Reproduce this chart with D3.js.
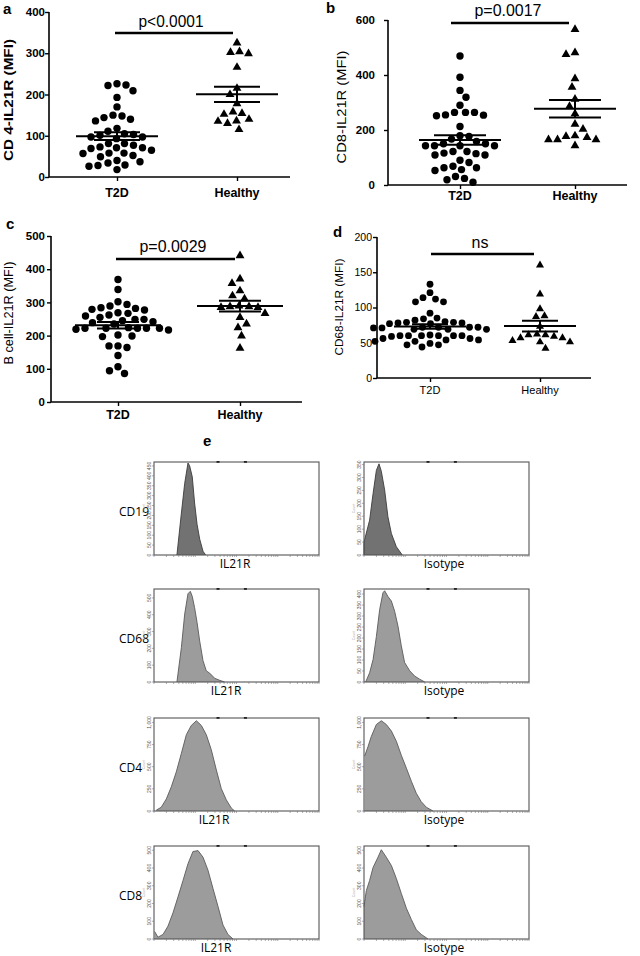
<!DOCTYPE html>
<html><head><meta charset="utf-8">
<script src="https://cdn.jsdelivr.net/npm/d3@7"></script>
<style>body{margin:0;background:#fff}svg{display:block}</style>
</head><body>
<svg id="c" width="640" height="956"></svg>
<script>
// ---------- DATA ----------
const categories = ["T2D", "Healthy"];
const pLabels = ["p<0.0001", "p=0.0017", "p=0.0029", "ns"];
const panelLetters = ["a", "b", "c", "d", "e"];
const yTitles = ["CD 4-IL21R (MFI)", "CD8-IL21R (MFI)", "B cell-IL21R (MFI)", "CD68-IL21R (MFI)"];

const cd4T2D = [223,209,193,222,226,170,150,144,136,140,148,118,111,105,103,101,97,93,97,71,69,65,73,81,77,81,71,58,52,49,58,57,40,34,28,18,26,29,37];
const cd4Healthy = [325,302,299,304,266,215,200,178,158,135,152,154,140,136,130,115];
const cd8T2D = [469,392,344,319,290,264,254,255,252,264,264,213,179,177,158,150,143,143,143,143,150,167,122,116,109,90,109,114,122,82,63,53,56,63,68,24,10,19,31];
const cd8Healthy = [566,481,475,387,356,312,286,259,221,203,173,165,143,165,179,165,177];
const bcellT2D = [369,339,294,289,302,282,277,267,259,262,269,279,284,249,245,239,235,242,249,255,222,222,224,217,219,222,222,222,202,197,199,169,164,169,140,106,86,94];
const bcellHealthy = [441,371,357,335,320,311,287,285,285,287,289,267,255,235,224,199,162];
const cd68T2D = [133,121,114,112,108,108,92,85,82,80,79,78,77,77,78,79,84,69,69,71,71,72,72,72,72,69,60,60,59,60,60,60,61,60,56,54,52,49,47,44,47,52,54,56];
const cd68Healthy = [160,119,98,88,87,73,62,57,61,57,59,61,51,53,51,42];

const yTicksCD4 = [0,100,200,300,400];
const yTicksCD8 = [0,200,400,600];
const yTicksBcell = [0,100,200,300,400,500];
const yTicksCD68 = [0,50,100,150,200];

// histograms (panel e): channel (0-1000 across axis) and event count
const histRows = ["CD19", "CD68", "CD4", "CD8"];
const histCols = ["IL21R", "Isotype"];
const cd19IL21RChannel = [139,166,186,206,216,232,246,261,277,297,313];
const cd19IL21RCount   = [0,212,362,465,451,395,263,155,80,19,0];
const cd19IsoChannel   = [0,0,34,55,75,91,105,125,145,166,196,232];
const cd19IsoCount     = [0,50,135,238,328,353,324,252,148,83,32,0];
const cd68IL21RChannel = [139,166,186,206,220,232,246,261,277,297,317,337,368,398,428];
const cd68IL21RCount   = [0,205,404,525,539,509,442,354,243,127,66,53,22,10,0];
const cd68IsoChannel   = [10,34,55,75,95,115,125,145,166,186,206,226,246,277,307,337,368];
const cd68IsoCount     = [0,42,102,207,330,406,415,389,368,321,254,165,89,51,27,13,0];
const cd4IL21RChannel  = [14,44,75,105,135,166,196,226,257,287,317,347,378,408,438,469,489];
const cd4IL21RCount    = [10,42,137,273,441,651,861,966,1019,966,861,693,462,252,126,32,0];
const cd4IsoChannel    = [4,24,44,75,105,135,166,196,226,257,287,317,347,378,418];
const cd4IsoCount      = [620,725,840,977,1019,977,903,788,630,483,336,200,105,42,0];
const cd8IL21RChannel  = [4,24,55,85,115,145,176,206,236,267,297,327,358,388,418,448,479];
const cd8IL21RCount    = [42,10,26,73,147,236,330,424,493,498,461,388,283,183,79,26,0];
const cd8IsoChannel    = [0,14,34,55,85,105,135,166,196,226,257,287,317,347,388];
const cd8IsoCount      = [183,272,330,403,461,503,461,414,341,257,173,110,52,26,0];
const histYMax = [[470,360],[553,423],[1050,1050],[524,524]];
const histTicks = [
  [[0,50,100,150,200,250,300,350,400,450],[0,50,100,150,200,250,300,350]],
  [[0,100,200,300,400,500],[0,50,100,150,200,250,300,350,400]],
  [["0",250],[0,250]].map(()=>[0,250,500,750,1000]),
  [[0,100,200,300,400,500],[0,100,200,300,400,500]]
];

// ---------- DRAW ----------
const svg = d3.select("#c");
const FONT = "'Liberation Sans', Arial, sans-serif";

function swarm(values, y, cx, dist) {
  const pts = values.map(v => ({v, y: y(v)})).sort((a, b) => b.v - a.v);
  const placed = [];
  pts.forEach((p, k) => {
    let off = 0;
    outer: for (let s = 0; s < 400; s++) {
      const d = s * 0.5;
      const cands = s === 0 ? [0] : (k % 2 ? [d, -d] : [-d, d]);
      for (const c of cands) {
        if (placed.every(q => Math.hypot(q.x - c, q.y - p.y) >= dist)) { off = c; break outer; }
      }
    }
    p.x = off; placed.push(p);
  });
  return pts.map(p => ({v: p.v, x: cx + p.x, y: p.y}));
}

const panels = [
  {t2d: cd4T2D, hl: cd4Healthy, max: 400, ticks: yTicksCD4, title: yTitles[0], p: pLabels[0], letter: panelLetters[0],
   ax: 49, xEnd: 290, y0: 177, y1: 12, cx: [117, 237], bold: true, lp: [3, 14], tx: 12.5, ty: 100, tlen: 122,
   catY: 197, px: 171, py: 27, plen: 65, br: [115, 233, 33], tickR: 45, meanHW: 41, semHW: 23, r: 3.7, tri: 34, dist: 9},
  {t2d: cd8T2D, hl: cd8Healthy, max: 600, ticks: yTicksCD8, title: yTitles[1], p: pLabels[1], letter: panelLetters[1],
   ax: 388, xEnd: 627, y0: 185, y1: 20, cx: [460, 575], bold: true, titleBold: false, lp: [326, 13], tx: 346, ty: 107, tlen: 113,
   catY: 200, px: 508, py: 16, plen: 67, br: [451, 569, 23], tickR: 375, meanHW: 41, semHW: 26, r: 3.7, tri: 34, dist: 9},
  {t2d: bcellT2D, hl: bcellHealthy, max: 500, ticks: yTicksBcell, title: yTitles[2], p: pLabels[2], letter: panelLetters[2],
   ax: 51, xEnd: 302, y0: 402, y1: 236, cx: [118, 240], bold: true, titleBold: false, lp: [6, 229], tx: 13, ty: 313, tlen: 103,
   catY: 419, px: 173, py: 252, plen: 67, br: [116, 235, 259], tickR: 45, meanHW: 43, semHW: 21, r: 3.7, tri: 34, dist: 9},
  {t2d: cd68T2D, hl: cd68Healthy, max: 200, ticks: yTicksCD68, title: yTitles[3], p: pLabels[3], letter: panelLetters[3],
   ax: 377, xEnd: 591, y0: 378, y1: 237, cx: [430, 540], bold: false, lp: [333, 237], tx: 343, ty: 307, tlen: 97,
   catY: 394, px: 480, py: 248, plen: 16, br: [431, 534, 254], tickR: 372, meanHW: 36, semHW: 18, r: 3.4, tri: 28, dist: 8.3}
];

panels.forEach(P => {
  const g = svg.append("g");
  const y = d3.scaleLinear().domain([0, P.max]).range([P.y0, P.y1]);
  const x = d3.scaleOrdinal().domain(categories).range(P.cx);
  const fw = P.bold ? "bold" : "normal";

  // letter
  g.append("text").attr("x", P.lp[0]).attr("y", P.lp[1]).text(P.letter)
    .attr("font-family", FONT).attr("font-weight", "bold").attr("font-size", 15);

  // y axis
  const ya = g.append("g").attr("transform", `translate(${P.ax},0)`)
    .call(d3.axisLeft(y).tickValues(P.ticks).tickSize(4).tickPadding(2).tickFormat(d3.format("d")));
  ya.select(".domain").attr("stroke", "#000").attr("stroke-width", 1.6).attr("d", `M0,${P.y0}V${P.y1}`);
  ya.selectAll(".tick line").attr("stroke", "#000").attr("stroke-width", 1.4);
  ya.selectAll(".tick text").attr("font-family", FONT).attr("font-weight", fw)
    .attr("font-size", P.bold ? 11.5 : 10.5).attr("fill", "#000").attr("x", P.tickR - P.ax);

  // x axis
  const xa = g.append("g").attr("transform", `translate(0,${P.y0})`)
    .call(d3.axisBottom(x).tickSize(4).tickFormat(() => ""));
  xa.select(".domain").attr("stroke", "#000").attr("stroke-width", 1.6).attr("d", `M${P.ax},0H${P.xEnd}`);
  xa.selectAll(".tick line").attr("stroke", "#000").attr("stroke-width", 1.4);
  g.selectAll(".cat").data(categories).enter().append("text")
    .attr("x", d => x(d)).attr("y", P.catY).attr("text-anchor", "middle").text(d => d)
    .attr("font-family", FONT).attr("font-weight", fw).attr("font-size", P.bold ? 12.5 : 11);

  // y title
  g.append("text").attr("transform", `translate(${P.tx},${P.ty}) rotate(-90)`)
    .attr("text-anchor", "middle").text(P.title)
    .attr("font-family", FONT).attr("font-weight", P.titleBold === false ? "normal" : fw)
    .attr("font-size", P.bold ? 12 : 10.5)
    .attr("textLength", P.tlen).attr("lengthAdjust", "spacingAndGlyphs");

  // significance
  g.append("line").attr("x1", P.br[0]).attr("x2", P.br[1]).attr("y1", P.br[2]).attr("y2", P.br[2])
    .attr("stroke", "#000").attr("stroke-width", 2.4);
  g.append("text").attr("x", P.px).attr("y", P.py).attr("text-anchor", "middle").text(P.p)
    .attr("font-family", FONT).attr("font-size", P.p === "ns" ? 16 : 17)
    .attr("textLength", P.p === "ns" ? null : P.plen).attr("lengthAdjust", "spacingAndGlyphs");

  // points
  const dots = swarm(P.t2d, y, x(categories[0]), P.dist);
  g.selectAll(".dot").data(dots).enter().append("circle")
    .attr("cx", d => d.x).attr("cy", d => d.y).attr("r", P.r).attr("fill", "#000");
  const tris = swarm(P.hl, y, x(categories[1]), P.dist);
  const sym = d3.symbol().type(d3.symbolTriangle).size(P.tri);
  g.selectAll(".tri").data(tris).enter().append("path")
    .attr("d", sym).attr("transform", d => `translate(${d.x},${d.y})`).attr("fill", "#000");

  // mean ± SEM
  [[P.t2d, categories[0]], [P.hl, categories[1]]].forEach(([vals, cat]) => {
    const m = d3.mean(vals), se = d3.deviation(vals) / Math.sqrt(vals.length);
    const cx = x(cat);
    const s = "#000";
    g.append("line").attr("x1", cx - P.meanHW).attr("x2", cx + P.meanHW).attr("y1", y(m)).attr("y2", y(m)).attr("stroke", s).attr("stroke-width", 2);
    g.append("line").attr("x1", cx).attr("x2", cx).attr("y1", y(m + se)).attr("y2", y(m - se)).attr("stroke", s).attr("stroke-width", 2);
    [m + se, m - se].forEach(v => g.append("line").attr("x1", cx - P.semHW).attr("x2", cx + P.semHW)
      .attr("y1", y(v)).attr("y2", y(v)).attr("stroke", s).attr("stroke-width", 2));
  });
});

// ---------- PANEL e : histograms ----------
const histData = [
  [[cd19IL21RChannel, cd19IL21RCount], [cd19IsoChannel, cd19IsoCount]],
  [[cd68IL21RChannel, cd68IL21RCount], [cd68IsoChannel, cd68IsoCount]],
  [[cd4IL21RChannel, cd4IL21RCount], [cd4IsoChannel, cd4IsoCount]],
  [[cd8IL21RChannel, cd8IL21RCount], [cd8IsoChannel, cd8IsoCount]]
];
const rowTop = [462, 589, 718, 846];
const boxX = [154, 364];
const BW = 165, BH = 93;
const il21rLabelX = [235, 226, 214, 216];
const LFONT = "'Open Sans', 'Liberation Sans', sans-serif";

svg.append("text").attr("x", 203).attr("y", 446).text(panelLetters[4])
  .attr("font-family", FONT).attr("font-weight", "bold").attr("font-size", 15);

histRows.forEach((row, ri) => {
  const top = rowTop[ri];
  svg.append("text").attr("x", 119).attr("y", top + 54).text(row)
    .attr("font-family", LFONT).attr("font-size", 12);
  histCols.forEach((col, ci) => {
    const left = boxX[ci];
    const g = svg.append("g").attr("transform", `translate(${left},${top})`);
    const hx = d3.scaleLinear().domain([0, 1000]).range([0, BW]);
    const hy = d3.scaleLinear().domain([0, histYMax[ri][ci]]).range([BH, 0]);
    const [ch, ct] = histData[ri][ci];
    const pts = ch.map((c, i) => [c, ct[i]]);
    const area = d3.area().x(d => hx(d[0])).y0(BH).y1(d => hy(d[1]));
    const line = d3.line().x(d => hx(d[0])).y(d => hy(d[1]));
    const dark = ri === 0;
    g.append("path").attr("d", area(pts)).attr("fill", dark ? "#727272" : "#9c9c9c");
    g.append("path").attr("d", line(pts)).attr("fill", "none").attr("stroke", dark ? "#3c3c3c" : "#5a5a5a").attr("stroke-width", 0.9);
    g.append("rect").attr("x", 0).attr("y", 0).attr("width", BW).attr("height", BH)
      .attr("fill", "none").attr("stroke", "#555").attr("stroke-width", 1.1);
    // log-like bottom ticks
    const minor = [];
    for (let dcd = 0; dcd < 4; dcd++) for (let k = 1; k <= 9; k++) minor.push(dcd * 250 + Math.log10(k) * 250);
    minor.push(1000);
    g.selectAll(".mt").data(minor).enter().append("line")
      .attr("x1", d => hx(d)).attr("x2", d => hx(d)).attr("y1", BH).attr("y2", BH + 2)
      .attr("stroke", "#777").attr("stroke-width", 0.6);
    // top markers
    [388, 554].forEach(c => g.append("rect").attr("x", hx(c) - 1.5).attr("y", -1).attr("width", 3).attr("height", 1.8).attr("fill", "#222"));
    // y ticks (tiny)
    const ticks = histTicks[ri][ci];
    g.selectAll(".yt").data(ticks).enter().append("line")
      .attr("x1", -2).attr("x2", 0).attr("y1", d => hy(d)).attr("y2", d => hy(d)).attr("stroke", "#777").attr("stroke-width", 0.6);
    g.selectAll(".ytl").data(ticks).enter().append("text")
      .attr("transform", d => `translate(-3,${hy(d)}) rotate(-90)`)
      .attr("text-anchor", "middle").text(d => d3.format(",")(d))
      .attr("font-family", FONT).attr("font-size", 5).attr("fill", "#555");
    g.append("text").attr("transform", `translate(-9,${BH / 2}) rotate(-90)`).attr("text-anchor", "middle")
      .text("Count").attr("font-family", FONT).attr("font-size", 3.5).attr("fill", "#aaa");
    // column label
    svg.append("text").attr("x", ci === 0 ? il21rLabelX[ri] : 444).attr("y", top + BH + 13)
      .attr("text-anchor", "middle").text(col).attr("font-family", LFONT).attr("font-size", 12);
  });
});
</script>
</body></html>
